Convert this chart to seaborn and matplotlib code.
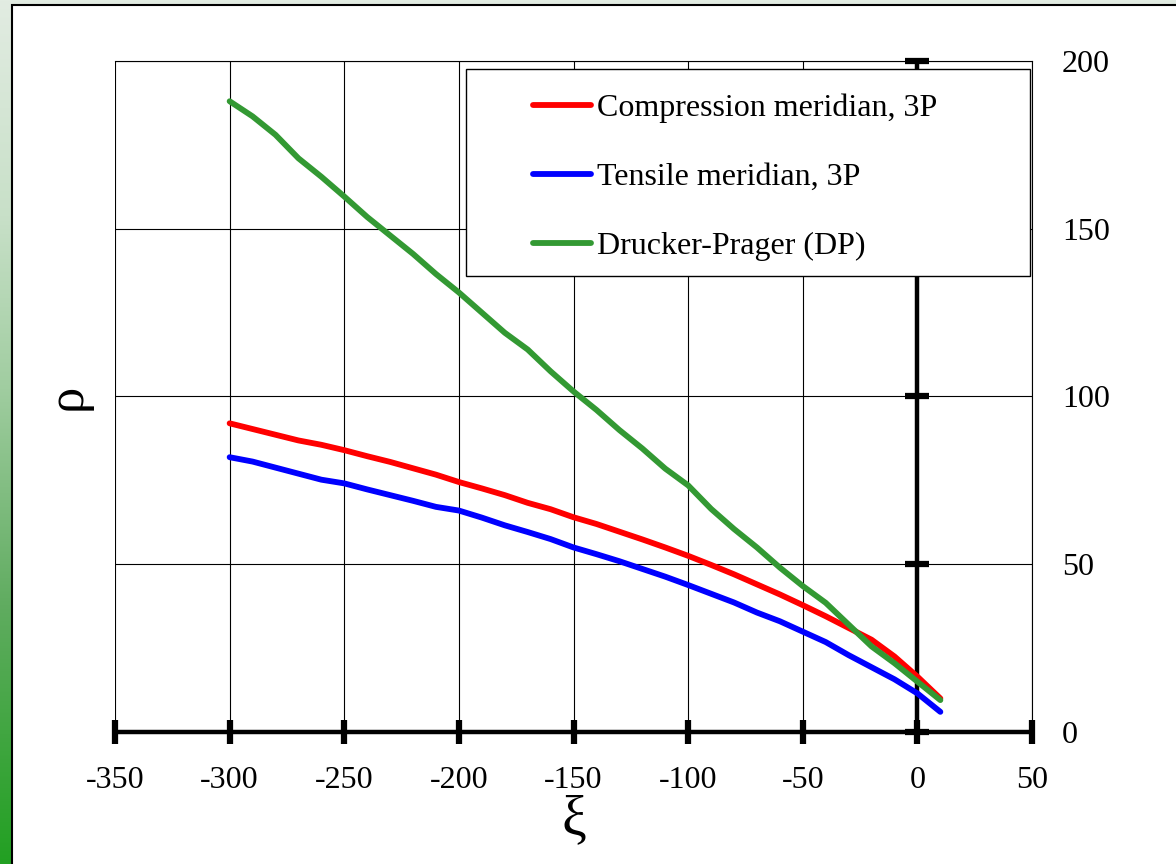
import numpy as np
import pandas as pd
import matplotlib
matplotlib.use('Agg')
import matplotlib.pyplot as plt
from matplotlib.patches import Rectangle
import seaborn as sns

# values
xi = [-300, -290, -280, -270, -260, -250, -240, -230, -220, -210,
      -200, -190, -180, -170, -160, -150, -140, -130, -120, -110,
      -100, -90, -80, -70, -60, -50, -40, -30, -20, -10, 0, 10]

rho_compression = [92.0, 90.3, 88.6, 86.9, 85.6, 84.0, 82.2, 80.5, 78.6, 76.7,
                   74.5, 72.6, 70.6, 68.3, 66.4, 64.0, 62.0, 59.7, 57.4, 55.0,
                   52.5, 49.8, 47.0, 44.0, 41.0, 37.8, 34.5, 31.0, 27.5, 22.5, 16.5, 10.0]

rho_tensile = [81.9, 80.6, 78.8, 77.0, 75.2, 74.1, 72.3, 70.6, 68.9, 67.1,
               66.0, 63.9, 61.6, 59.6, 57.5, 55.0, 53.0, 50.9, 48.6, 46.3,
               43.8, 41.2, 38.6, 35.6, 33.0, 29.9, 26.8, 22.9, 19.3, 15.7, 11.5, 6.0]

rho_dp = [188.0, 183.5, 178.0, 171.0, 165.5, 159.6, 153.5, 148.0, 142.5, 136.5,
          131.0, 125.0, 119.0, 114.0, 107.5, 101.5, 96.0, 90.0, 84.5, 78.5,
          73.5, 66.5, 60.5, 55.0, 49.0, 43.5, 38.5, 32.0, 25.5, 20.5, 15.0, 9.5]

labels = ['Compression meridian, 3P', 'Tensile meridian, 3P', 'Drucker-Prager (DP)']
colors = ['#ff0000', '#0000ff', '#339933']

x_ticks = [-350, -300, -250, -200, -150, -100, -50, 0, 50]
y_ticks = [0, 50, 100, 150, 200]

df = pd.DataFrame({
    'xi': xi * 3,
    'rho': rho_compression + rho_tensile + rho_dp,
    'curve': [labels[0]] * len(xi) + [labels[1]] * len(xi) + [labels[2]] * len(xi),
})

sns.set_style('white')
plt.rcParams['font.family'] = ['Liberation Serif', 'DejaVu Serif']
plt.rcParams['axes.unicode_minus'] = False
plt.rcParams['text.color'] = 'black'
plt.rcParams['axes.labelcolor'] = 'black'

fig = plt.figure(figsize=(11.76, 8.64), dpi=100)

# green gradient page background with white panel
bg = fig.add_axes([0, 0, 1, 1], zorder=-10)
stops = [0.0, 0.25, 0.45, 0.7, 1.0]
reds = [226, 200, 160, 96, 34]
greens = [236, 224, 205, 172, 160]
t = np.linspace(0, 1, 864)
grad = np.stack([np.interp(t, stops, reds), np.interp(t, stops, greens),
                 np.interp(t, stops, reds)], axis=1)[:, None, :] / 255.0
bg.imshow(grad, aspect='auto', extent=[0, 1, 0, 1])
bg.add_patch(Rectangle((12 / 1176, -0.1), 1.2, 1.1 - 5 / 864, transform=bg.transAxes,
                       facecolor='white', edgecolor='black', lw=1.5))
bg.set_xlim(0, 1)
bg.set_ylim(0, 1)
bg.axis('off')

ax = fig.add_axes([0.0978, 0.1528, 0.7798, 0.7766])
sns.lineplot(data=df, x='xi', y='rho', hue='curve', hue_order=labels,
             palette=colors, lw=4.2, ax=ax, sort=False, estimator=None)
for line in ax.lines:
    line.set_solid_capstyle('round')
    line.set_zorder(3)

ax.set_xlim(-350, 50)
ax.set_ylim(0, 200)
ax.set_xticks(x_ticks)
ax.set_yticks(y_ticks)
ax.grid(True, color='black', lw=0.8)
ax.set_axisbelow(True)

ax.spines['left'].set_position(('data', 0))
ax.spines['left'].set_linewidth(3.2)
ax.spines['bottom'].set_linewidth(3.2)
for s in ['top', 'right']:
    ax.spines[s].set_linewidth(0.8)
    ax.spines[s].set_color('black')
ax.spines['left'].set_color('black')
ax.spines['bottom'].set_color('black')

ax.tick_params(axis='x', direction='inout', length=17, width=4.5, pad=16,
               bottom=True, top=False, labelsize=23, colors='black')
ax.tick_params(axis='y', direction='inout', length=17, width=4.5, left=True, right=False,
               labelleft=False, labelright=True, pad=13, labelsize=23, colors='black')

ax.set_xlabel('ξ', fontsize=40)
ax.set_ylabel('ρ', fontsize=38)
ax.xaxis.set_label_coords(0.5, -0.092)
ax.yaxis.set_label_coords(-0.026, 0.5)

# legend box
ax.add_patch(Rectangle((0.383, 0.680), 0.615, 0.308, transform=ax.transAxes,
                       facecolor='white', edgecolor='black', lw=1, zorder=4))
handles, hl = ax.get_legend_handles_labels()
leg = ax.legend(handles, hl, loc='upper left', bbox_to_anchor=(0.456, 0.951),
                frameon=False, fontsize=23, handlelength=1.8, handletextpad=0.2,
                labelspacing=1.23, borderpad=0, borderaxespad=0, labelcolor='black')
leg.set_zorder(5)
for h in leg.legend_handles:
    h.set_linewidth(4.2)
    h.set_solid_capstyle('round')

fig.savefig('out.png', dpi=100)
